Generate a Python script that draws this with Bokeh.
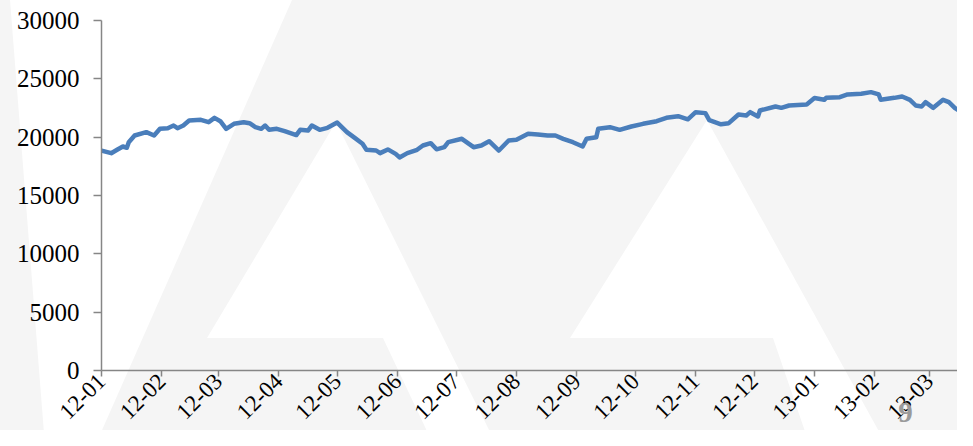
import math
import pandas as pd
from bokeh.plotting import figure
from bokeh.models import FixedTicker, Range1d, Label
from bokeh.embed import file_html
from bokeh.resources import INLINE

dates = [
    "2012-01-01", "2012-01-06", "2012-01-09", "2012-01-12", "2012-01-14", "2012-01-15", "2012-01-18", "2012-01-24", "2012-01-28", "2012-01-31",
    "2012-02-04", "2012-02-07", "2012-02-09", "2012-02-12", "2012-02-15", "2012-02-21", "2012-02-25", "2012-02-28",
    "2012-03-02", "2012-03-05", "2012-03-09", "2012-03-14", "2012-03-17", "2012-03-20", "2012-03-23", "2012-03-25", "2012-03-27", "2012-03-31",
    "2012-04-04", "2012-04-10", "2012-04-12", "2012-04-16", "2012-04-18", "2012-04-22", "2012-04-26",
    "2012-05-01", "2012-05-06", "2012-05-10", "2012-05-14", "2012-05-16", "2012-05-21", "2012-05-23", "2012-05-27", "2012-05-31",
    "2012-06-02", "2012-06-06", "2012-06-11", "2012-06-14", "2012-06-18", "2012-06-21", "2012-06-25", "2012-06-27",
    "2012-07-04", "2012-07-10", "2012-07-14", "2012-07-18", "2012-07-23", "2012-07-28",
    "2012-08-01", "2012-08-07", "2012-08-12", "2012-08-17", "2012-08-21", "2012-08-25", "2012-08-30",
    "2012-09-04", "2012-09-06", "2012-09-11", "2012-09-12", "2012-09-18", "2012-09-23", "2012-09-29",
    "2012-10-05", "2012-10-12", "2012-10-17", "2012-10-23", "2012-10-28",
    "2012-11-01", "2012-11-06", "2012-11-08", "2012-11-14", "2012-11-18", "2012-11-23", "2012-11-27", "2012-11-29",
    "2012-12-03", "2012-12-04", "2012-12-12", "2012-12-15", "2012-12-19", "2012-12-28",
    "2013-01-01", "2013-01-06", "2013-01-07", "2013-01-14", "2013-01-18", "2013-01-25", "2013-01-30",
    "2013-02-03", "2013-02-04", "2013-02-11", "2013-02-15", "2013-02-19", "2013-02-22", "2013-02-25", "2013-02-27",
    "2013-03-03", "2013-03-08", "2013-03-11", "2013-03-14", "2013-03-18", "2013-03-20", "2013-03-24",
]

values = [
    18850, 18626, 18917, 19200, 19088, 19570, 20143, 20430, 20140, 20714,
    20770, 21000, 20770, 21000, 21430, 21490, 21285, 21657,
    21370, 20714, 21143, 21285, 21200, 20857, 20714, 21000, 20630, 20714,
    20515, 20180, 20630, 20570, 21000, 20630, 20800,
    21250, 20430, 19940, 19430, 18917, 18857, 18630, 18950, 18570,
    18260, 18630, 18917, 19285, 19485, 18960, 19140, 19570,
    19860, 19140, 19285, 19655, 18857, 19714,
    19770, 20285, 20230, 20140, 20140, 19860, 19570,
    19200, 19860, 20000, 20714, 20857, 20630, 20914,
    21143, 21370, 21657, 21800, 21530,
    22140, 22060, 21460, 21100, 21200, 21943, 21857, 22143,
    21770, 22286, 22630, 22514, 22714, 22800,
    23350, 23200, 23370, 23430, 23660, 23714, 23860,
    23660, 23200, 23370, 23486, 23200, 22714, 22630, 23000,
    22514, 23200, 23000, 22514, 22060, 22286, 22340,
]

tick_dates = [
    "2012-01-01", "2012-02-01", "2012-03-01", "2012-04-01", "2012-05-01", "2012-06-01",
    "2012-07-01", "2012-08-01", "2012-09-01", "2012-10-01", "2012-11-01", "2012-12-01",
    "2013-01-01", "2013-02-01", "2013-03-01",
]
tick_labels = [
    "12-01", "12-02", "12-03", "12-04", "12-05", "12-06", "12-07", "12-08",
    "12-09", "12-10", "12-11", "12-12", "13-01", "13-02", "13-03",
]
y_ticks = [0, 5000, 10000, 15000, 20000, 25000, 30000]

page_number = "9"


def ms(s):
    return pd.Timestamp(s).value / 1e6


x = pd.to_datetime(dates)

# pixel layout: the frame fills the whole canvas, axes are pinned inside it
W, H = 957, 430
AXIS_X, TOP, ZERO_Y = 101, 20, 370
PX_PER_DAY = 1.948
DAY = 86400000.0
x0 = ms("2012-01-01")
x_start = x0 - AXIS_X / PX_PER_DAY * DAY
x_end = x0 + (W - AXIS_X) / PX_PER_DAY * DAY
per_px = 30000 / (ZERO_Y - TOP)
y_start = -(H - ZERO_Y) * per_px
y_end = 30000 + TOP * per_px

p = figure(
    width=W, height=H,
    x_axis_type="datetime",
    output_backend="svg",
    toolbar_location=None,
    x_range=Range1d(x_start, x_end),
    y_range=Range1d(y_start, y_end),
    min_border=0,
)

p.background_fill_color = None
p.border_fill_color = None
p.outline_line_color = None
p.grid.visible = False

# faint watermark behind the chart (page decoration)
svg = (
    "<svg xmlns='http://www.w3.org/2000/svg' width='957' height='430'>"
    "<rect width='957' height='430' fill='#f5f5f5'/>"
    "<polygon points='10,0 292,0 95,446 45,446' fill='#ffffff'/>"
    "<polygon points='336,122 207,338 383,338 434,446 497,446' fill='#ffffff'/>"
    "<polygon points='707,120 570,338 773,338 810,446 887,446' fill='#ffffff'/>"
    "</svg>"
).replace("#", "%23")
p.styles = {
    "background-image": f"url(\"data:image/svg+xml;utf8,{svg}\")",
    "background-repeat": "no-repeat",
}

p.line(x, values, line_color="#4a7ebb", line_width=4.5, line_join="round")

tick_ms = [ms(d) for d in tick_dates]
p.xaxis.ticker = FixedTicker(ticks=tick_ms)
p.xaxis.major_label_overrides = {t: lab for t, lab in zip(tick_ms, tick_labels)}
p.xaxis.major_label_orientation = math.pi / 4
p.xaxis.fixed_location = 0
p.xaxis.bounds = (x0, x_end)
p.yaxis.ticker = FixedTicker(ticks=y_ticks)
p.yaxis.fixed_location = x0
p.yaxis.bounds = (0, 30000)

for ax in (p.xaxis, p.yaxis):
    ax.axis_line_color = "#868686"
    ax.axis_line_width = 1.5
    ax.major_tick_line_color = "#868686"
    ax.major_tick_line_width = 1.5
    ax.major_tick_in = 0
    ax.minor_tick_line_color = None
    ax.major_label_text_font = "Liberation Serif"
    ax.major_label_text_color = "#000000"

p.yaxis.major_label_text_font_size = "25px"
p.yaxis.major_tick_out = 8
p.yaxis.major_label_standoff = 14
p.xaxis.major_label_text_font_size = "23px"
p.xaxis.major_tick_out = 6
p.xaxis.major_label_standoff = 1

p.add_layout(Label(
    x=ms("2013-02-16 17:00"), y=-3600, text=page_number,
    text_font="Liberation Serif", text_font_style="bold",
    text_font_size="29px", text_color="#9a9a9a",
    text_align="center", text_baseline="alphabetic",
))

open("out.html", "w").write(file_html(p, INLINE))
